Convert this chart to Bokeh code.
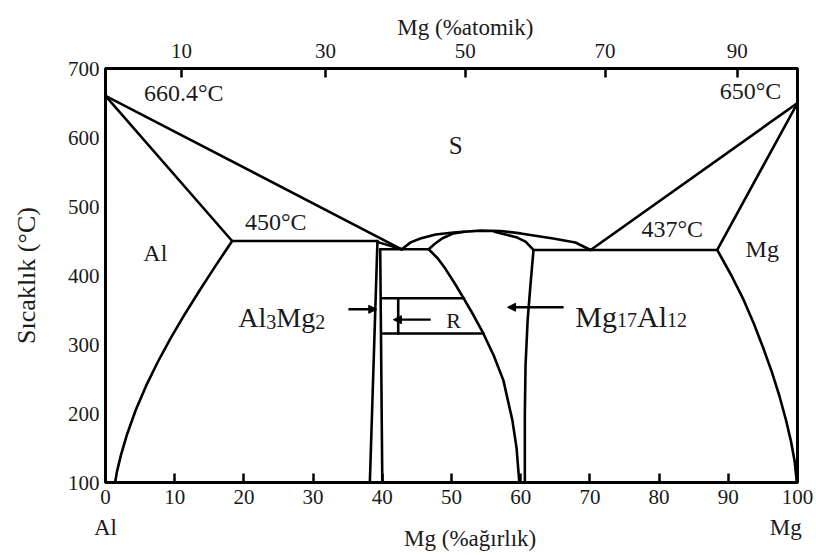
from bokeh.embed import file_html
from bokeh.models import Arrow, FixedTicker, Label, LinearAxis, NormalHead, Range1d
from bokeh.plotting import figure
from bokeh.resources import INLINE

FONT = "Liberation Serif"
INK = "black"
TEXT = "#1a1a1a"

# --- axes -------------------------------------------------------------
wt_ticks = [0, 10, 20, 30, 40, 50, 60, 70, 80, 90, 100]          # Mg (wt %)
temp_ticks = [100, 200, 300, 400, 500, 600, 700]                  # °C
at_tick_labels = ["10", "30", "50", "70", "90"]                   # Mg (at %)
at_tick_pos_wt = [11.0, 31.8, 52.0, 72.2, 91.3]                   # same, on the wt % scale
end_member_labels = ["Al", "Mg"]
end_member_pos = [0, 98.3]

# --- invariant temperatures -------------------------------------------
T_AL_MELT = 660.4
T_MG_MELT = 650.0
T_EUT_AL = 450.0
T_EUT_MG = 437.0
T_EUT_MID = 438.0

# --- Al side ----------------------------------------------------------
al_liquidus_wt = [0.0, 42.8]
al_liquidus_t = [T_AL_MELT, T_EUT_MID]
al_solidus_wt = [0.0, 18.3]
al_solidus_t = [T_AL_MELT, T_EUT_AL]
al_solvus_wt = [18.3, 15.97, 13.71, 11.52, 9.46, 7.57, 5.86, 4.37, 3.12, 2.24, 1.64, 1.39]
al_solvus_t = [450, 415, 380, 345, 310, 275, 240, 205, 170, 140, 115, 100]
al_eut_wt = [18.3, 39.3]
al_eut_t = [T_EUT_AL, T_EUT_AL]

# --- Al3Mg2 (beta) ----------------------------------------------------
beta_left_wt = [39.3, 38.2]
beta_left_t = [T_EUT_AL, 100]
beta_right_wt = [39.7, 40.0]
beta_right_t = [T_EUT_MID, 100]
beta_liq_wt = [39.5, 42.8]
beta_liq_t = [448, T_EUT_MID]
beta_gamma_wt = [39.7, 46.7]
beta_gamma_t = [T_EUT_MID, T_EUT_MID]

# --- Mg17Al12 (gamma) -------------------------------------------------
dome_wt = [42.8, 44.1, 45.5, 47.7, 50.3, 54.2, 57.1, 60.0, 64.7, 67.9, 70.1]
dome_t = [438, 448, 453.6, 459.4, 462.3, 465, 464.5, 461, 453.6, 447.8, 437]
gamma_sol_left_wt = [46.7, 47.6, 48.7, 50.3, 51.8]
gamma_sol_left_t = [438, 446, 454, 461, 463.5]
gamma_sol_right_wt = [61.85, 60.7, 59.5, 57.8, 56.2]
gamma_sol_right_t = [437, 449, 455, 459.4, 463.5]
gamma_left_wt = [46.7, 48.0, 49.1, 50.5, 51.7, 53.2, 54.6, 56.1, 57.5, 58.8, 59.4, 59.8]
gamma_left_t = [438, 425, 410, 388, 368, 342, 316, 284, 248, 190, 150, 100]
gamma_right_wt = [61.85, 61.4, 61.0, 60.7, 60.6, 60.6]
gamma_right_t = [437, 385, 335, 270, 200, 100]

# --- R phase ----------------------------------------------------------
r_top_wt = [40.0, 51.8]
r_top_t = [367, 367]
r_bot_wt = [40.0, 54.6]
r_bot_t = [316, 316]
r_tick_wt = [42.3, 42.3]
r_tick_t = [367, 316]

# --- Mg side ----------------------------------------------------------
mg_eut_wt = [61.85, 88.4]
mg_eut_t = [T_EUT_MG, T_EUT_MG]
mg_liquidus_wt = [100.0, 70.1]
mg_liquidus_t = [T_MG_MELT, T_EUT_MG]
mg_solidus_wt = [100.0, 88.4]
mg_solidus_t = [T_MG_MELT, T_EUT_MG]
mg_solvus_wt = [88.4, 90.45, 92.2, 93.7, 95.05, 96.3, 97.4, 98.35, 99.05, 99.6, 99.9]
mg_solvus_t = [437, 400, 365, 330, 295, 260, 225, 190, 160, 130, 100]

# --- pointers ---------------------------------------------------------
beta_arrow_wt = [35.1, 39.2]
beta_arrow_t = 351
gamma_arrow_wt = [66.2, 58.1]
gamma_arrow_t = 354
r_arrow_wt = [47.0, 41.6]
r_arrow_t = 336

p = figure(
    width=816, height=555,
    x_range=Range1d(0, 100), y_range=Range1d(100, 700),
    output_backend="svg", toolbar_location=None,
    min_border_left=105, min_border_right=19,
    min_border_top=68, min_border_bottom=73,
)
p.xgrid.visible = False
p.ygrid.visible = False
p.outline_line_color = INK
p.outline_line_width = 3
p.background_fill_color = "white"
p.border_fill_color = "white"


def style_axis(ax, tick_in, size="21px"):
    ax.axis_line_color = INK
    ax.axis_line_width = 3
    ax.major_tick_in = tick_in
    ax.major_tick_out = 0
    ax.major_tick_line_width = 2.5
    ax.major_tick_line_color = INK
    ax.minor_tick_line_color = None
    ax.major_label_text_font = FONT
    ax.major_label_text_font_size = size
    ax.major_label_text_color = TEXT


def text_axis(ticks, labels, standoff, size="23px"):
    """An axis without line or ticks, used only to place words beside the frame."""
    ax = LinearAxis(
        ticker=FixedTicker(ticks=ticks),
        major_label_overrides={t: s for t, s in zip(ticks, labels)},
    )
    style_axis(ax, 0, size)
    ax.axis_line_color = None
    ax.major_tick_line_color = None
    ax.major_label_standoff = standoff
    return ax


# bottom: weight percent
xa = p.xaxis[0]
xa.ticker = FixedTicker(ticks=wt_ticks)
style_axis(xa, 9)
xa.major_label_standoff = 7
p.add_layout(text_axis(end_member_pos, end_member_labels, 8), "below")
p.add_layout(text_axis([52.7], ["Mg (%ağırlık)"], -17), "below")

# left: temperature
ya = p.yaxis[0]
ya.ticker = FixedTicker(ticks=temp_ticks)
style_axis(ya, 0)
ya.major_label_standoff = 6
ya.axis_label = "Sıcaklık (°C)"
ya.axis_label_text_font = FONT
ya.axis_label_text_font_size = "26px"
ya.axis_label_text_font_style = "normal"
ya.axis_label_text_color = TEXT
ya.axis_label_standoff = 24

# top: atomic percent
top = LinearAxis(
    ticker=FixedTicker(ticks=at_tick_pos_wt),
    major_label_overrides={pos: lab for pos, lab in zip(at_tick_pos_wt, at_tick_labels)},
)
style_axis(top, 9)
top.major_label_standoff = 11
p.add_layout(top, "above")
p.add_layout(text_axis([52.0], ["Mg (%atomik)"], 1), "above")

# --- phase boundaries ---------------------------------------------------
curves = [
    (al_liquidus_wt, al_liquidus_t), (al_solidus_wt, al_solidus_t),
    (al_solvus_wt, al_solvus_t), (al_eut_wt, al_eut_t),
    (beta_left_wt, beta_left_t), (beta_right_wt, beta_right_t),
    (beta_liq_wt, beta_liq_t), (beta_gamma_wt, beta_gamma_t),
    (dome_wt, dome_t), (gamma_sol_left_wt, gamma_sol_left_t),
    (gamma_sol_right_wt, gamma_sol_right_t),
    (gamma_left_wt, gamma_left_t), (gamma_right_wt, gamma_right_t),
    (r_top_wt, r_top_t), (r_bot_wt, r_bot_t), (r_tick_wt, r_tick_t),
    (mg_eut_wt, mg_eut_t), (mg_liquidus_wt, mg_liquidus_t),
    (mg_solidus_wt, mg_solidus_t), (mg_solvus_wt, mg_solvus_t),
]
for xs, ys in curves:
    p.line(xs, ys, line_color=INK, line_width=2.6, line_join="round", line_cap="round")

for xs, yv in [(beta_arrow_wt, beta_arrow_t), (gamma_arrow_wt, gamma_arrow_t), (r_arrow_wt, r_arrow_t)]:
    p.add_layout(Arrow(
        x_start=xs[0], y_start=yv, x_end=xs[1], y_end=yv,
        line_color=INK, line_width=2.4,
        end=NormalHead(size=8, fill_color=INK, line_color=INK, line_width=1),
    ))


def text(x, y, s, size="24px", align="center", baseline="middle", dx=0, dy=0):
    p.add_layout(Label(
        x=x, y=y, text=s, x_offset=dx, y_offset=dy,
        text_font=FONT, text_font_size=size, text_color=TEXT,
        text_align=align, text_baseline=baseline,
    ))


# temperatures and phase fields
text(11.3, 665, "660.4°C")
text(93.2, 667, "650°C")
text(24.6, 477, "450°C")
text(81.9, 468, "437°C")
text(7.2, 433, "Al")
text(94.9, 439, "Mg")
text(50.6, 588, "S", size="25px")
text(50.3, 335, "R", size="22px")


def formula(x, y, parts, big, small):
    """Lay out a chemical formula as (text, is_subscript) pieces."""
    widths = {"A": 0.722, "l": 0.278, "M": 0.889, "g": 0.5}
    dx = 0.0
    for s, sub in parts:
        size = small if sub else big
        text(x, y, s, size=f"{size}px", align="left", baseline="alphabetic",
             dx=dx, dy=-4 if sub else 0)
        dx += sum(widths.get(ch, 0.5) for ch in s) * size


formula(19.2, 339, [("Al", False), ("3", True), ("Mg", False), ("2", True)], 28, 20)
formula(67.9, 340.6, [("Mg", False), ("17", True), ("Al", False), ("12", True)], 30, 20)

open("out.html", "w").write(file_html(p, INLINE))
